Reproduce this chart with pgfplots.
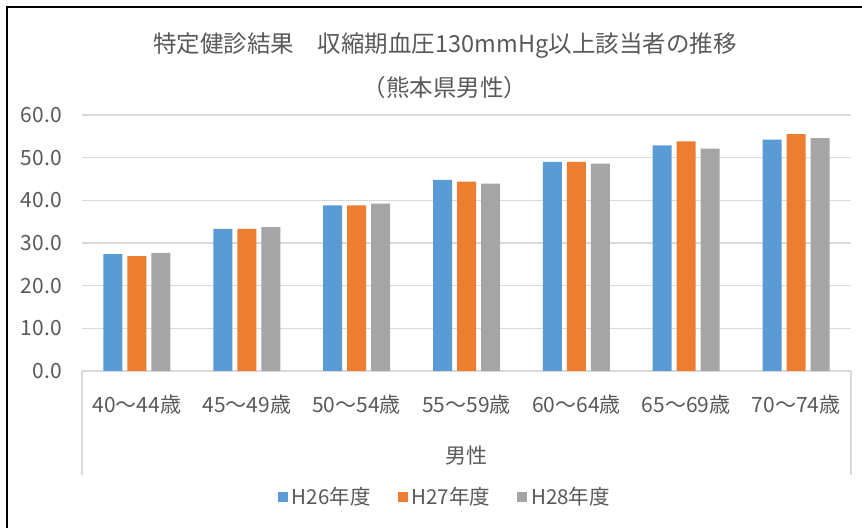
\documentclass[border=0pt]{standalone}
\usepackage{fontspec}
\setmainfont{Noto Sans CJK JP}
\usepackage{pgfplots}
\pgfplotsset{compat=1.18}
\definecolor{cA}{HTML}{5B9BD5}
\definecolor{cB}{HTML}{ED7D31}
\definecolor{cC}{HTML}{A5A5A5}
\definecolor{txt}{HTML}{595959}
\definecolor{gridc}{HTML}{D9D9D9}
\begin{document}
\begin{tikzpicture}[x=1bp,y=1bp]
\path[use as bounding box] (0,0) rectangle (862,528);
\draw[line width=2bp, black] (7,-5) -- (7,521) -- (870,521);
\draw[gridc, line width=1.5bp] (82,157) -- (82,53);
\draw[gridc, line width=1.5bp] (851,157) -- (851,53);
\begin{axis}[
  at={(82bp,157bp)}, anchor=south west,
  scale only axis, width=769bp, height=256bp,
  ymin=0, ymax=60, xmin=-0.5, xmax=6.5,
  ybar=5bp, bar width=19bp,
  ytick={0,10,...,60},
  /pgf/number format/fixed, /pgf/number format/fixed zerofill, /pgf/number format/precision=1,
  /pgf/number format/assume math mode=true,
  ymajorgrids, grid style={gridc, line width=1.5bp},
  axis x line*=bottom, axis y line*=left,
  y axis line style={draw=none},
  x axis line style={gridc, line width=1.5bp},
  major tick length=0pt,
  tick label style={font=\fontsize{21bp}{25bp}\selectfont, text=txt},
  yticklabel style={anchor=east, inner sep=0pt, xshift=-20bp},
  xtick={0,...,6},
  xticklabels={40〜44歳,45〜49歳,50〜54歳,55〜59歳,60〜64歳,65〜69歳,70〜74歳},
  xticklabel style={anchor=center, inner sep=0pt, yshift=-34bp},
  legend style={at={(0.472,-0.492)}, anchor=center, legend columns=3, draw=none,
    font=\fontsize{20.5bp}{24bp}\selectfont, text=txt, inner sep=0pt,
    /tikz/every even column/.append style={column sep=25bp},
    /tikz/every odd column/.append style={column sep=2bp}},
  legend image code/.code={\fill[#1] (0bp,-5bp) rectangle (10bp,5bp);},
]
\addplot[fill=cA, draw=none] coordinates {(0,27.4) (1,33.3) (2,38.8) (3,44.8) (4,49.0) (5,52.9) (6,54.2)};
\addplot[fill=cB, draw=none] coordinates {(0,26.9) (1,33.3) (2,38.8) (3,44.4) (4,49.0) (5,53.8) (6,55.5)};
\addplot[fill=cC, draw=none] coordinates {(0,27.7) (1,33.7) (2,39.2) (3,43.9) (4,48.6) (5,52.1) (6,54.6)};
\legend{H26年度,H27年度,H28年度}
\end{axis}
\node[text=txt, font=\fontsize{23.5bp}{28bp}\selectfont] at (445,482) {特定健診結果　収縮期血圧130mmHg以上該当者の推移};
\node[text=txt, font=\fontsize{23.5bp}{28bp}\selectfont] at (445,440) {（熊本県男性）};
\node[text=txt, font=\fontsize{21bp}{25bp}\selectfont] at (466,72) {男性};
\end{tikzpicture}
\end{document}
